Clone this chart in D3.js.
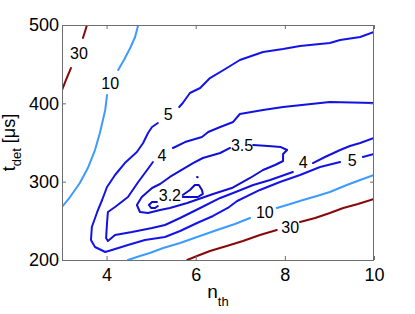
<!DOCTYPE html>
<html><head><meta charset="utf-8">
<script src="https://cdn.jsdelivr.net/npm/d3@7"></script>
<style>body{margin:0;background:#fff}svg{display:block}text{font-family:"Liberation Sans",Arial,Helvetica,sans-serif}</style>
</head><body><svg id="c" width="415" height="314"></svg>
<script>
// axis ticks
const xTicks = [4, 6, 8, 10];
const yTicks = [200, 300, 400, 500];
const xDomain = [3, 10];
const yDomain = [200, 500];

// contour levels and colours (jet-like)
const levels = [30, 10, 5, 4, 3.5, 3.2];
const levelColors = ["#870808", "#3d9bff", "#1414ea", "#1212e0", "#1010d6", "#0c0cca"];

// contour polylines [n_th, t_det] per level (segments broken at labels)
const c30 = [
  [[3.00,417.0],[3.09,429.8],[3.20,445.1]],
  [[3.47,483.4],[3.52,492.3],[3.56,500]],
  [[5.81,200],[6.03,205.1],[6.32,211.5],[6.77,219.1],[7.06,224.3],[7.44,231.9],[7.82,238.3]],
  [[8.34,248.5],[8.68,253.6],[9.01,260.0],[9.31,266.4],[9.64,271.5],[10,277.9]]
];
const c10 = [
  [[3.00,267.7],[3.18,280.4],[3.40,298.3],[3.58,317.4],[3.74,340.4],[3.85,362.1],[3.97,391.5],[4.01,410.6]],
  [[4.26,442.6],[4.39,455.3],[4.53,470.6],[4.64,484.7],[4.71,500]],
  [[4.48,200],[4.75,205.1],[4.97,208.9],[5.27,215.3],[5.65,221.7],[6.03,229.4],[6.48,238.3],[6.88,246.0],[7.22,253.6]],
  [[7.82,266.4],[8.12,271.5],[8.41,276.6],[8.72,281.7],[9.01,286.8],[9.39,295.7],[9.69,302.1],[10,308.5]]
];
const c5 = [
  [[5.63,395.3],[5.71,400.4],[5.87,413.2],[6.10,419.6],[6.32,432.3],[6.70,445.1],[6.99,455.3],[7.51,465.5],[7.96,469.4],[8.34,473.2],[9.01,477.0],[9.24,480.9],[9.69,484.7],[10,491.1]],
  [[5.15,374.9],[5.02,369.8],[4.93,362.1],[4.82,349.4],[4.68,337.9],[4.41,323.8],[4.19,308.5],[4.01,293.2],[3.90,276.6],[3.79,261.3],[3.67,242.1],[3.65,225.5],[3.74,216.6],[3.97,210.2],[4.12,212.8],[4.48,219.1],[4.86,225.5],[5.31,229.4],[5.65,237.0],[6.03,247.2],[6.39,256.2],[6.72,266.4],[6.93,275.3],[7.44,289.4],[7.89,299.6],[8.34,308.5],[8.79,318.7],[9.24,325.1]],
  [[9.75,331.5],[10,335.3]]
];
const c4 = [
  [[5.49,343.0],[5.76,350.6],[6.14,357.0],[6.28,363.4],[6.55,369.8],[6.84,376.2],[6.99,386.4],[7.51,391.5],[7.96,395.3],[9.01,401.7],[10,400.4]],
  [[5.04,325.1],[4.91,314.9],[4.71,299.6],[4.48,280.4],[4.19,267.7],[4.03,261.3],[4.01,247.2],[3.99,228.1],[4.03,224.3],[4.19,231.9],[4.57,235.7],[5.02,240.8],[5.31,244.7],[5.65,253.6],[6.10,266.4],[6.55,279.2],[6.84,285.5],[7.29,295.7],[7.67,302.1],[8.18,312.3]],
  [[8.63,323.8],[8.90,331.5],[9.24,340.4],[9.46,345.5],[9.69,349.4],[10,355.7]]
];
const c35 = [
  [[7.29,346.8],[7.62,345.5],[7.91,344.2],[8.05,340.4],[7.96,335.3],[7.96,326.4],[7.78,321.3],[7.51,314.9],[7.22,304.7],[6.81,291.9],[6.39,284.3],[5.81,272.8],[5.42,266.4],[5.20,263.8],[4.93,260.0],[4.75,261.3],[4.68,270.2],[4.79,280.4],[5.02,291.9],[5.20,297.0],[5.42,306.0],[5.94,323.8],[6.16,330.2],[6.55,336.6],[6.77,343.0]]
];
const c32 = [
  [[5.13,274.0],[5.02,274.0],[4.95,270.2],[5.00,266.4],[5.09,266.4],[5.15,268.9]],
  [[5.71,283.0],[5.87,289.4],[5.98,295.7],[6.07,295.7],[6.14,289.4],[6.16,284.3],[6.05,280.4],[5.87,280.4],[5.71,280.4]],
  [[6.03,306.0],[6.045,305.7]]
];
const contourLines = [c30, c10, c5, c4, c35, c32];

// in-line labels [n_th, t_det] per level
const labels30 = [[3.38,464.3],[8.12,242.1]];
const labels10 = [[4.08,426.0],[7.55,261.3]];
const labels5 = [[5.38,386.4],[9.51,327.7]];
const labels4 = [[5.24,334.0],[8.41,325.1]];
const labels35 = [[7.04,346.8]];
const labels32 = [[5.42,283.0]];
const contourLabels = [labels30, labels10, labels5, labels4, labels35, labels32];
const levelText = ["30", "10", "5", "4", "3.5", "3.2"];

const svg = d3.select("#c");
const L = 62, R = 374, T = 25, B = 260;
const x = d3.scaleLinear().domain(xDomain).range([L, R]);
const y = d3.scaleLinear().domain(yDomain).range([B, T]);

svg.append("defs").append("clipPath").attr("id", "clip")
  .append("rect").attr("x", L).attr("y", T).attr("width", R - L).attr("height", B - T);

const line = d3.line().x(d => x(d[0])).y(d => y(d[1]));
const g = svg.append("g").attr("clip-path", "url(#clip)");
contourLines.forEach((segs, i) => {
  g.selectAll(null).data(segs).enter().append("path")
    .attr("d", line).attr("fill", "none")
    .attr("stroke", levelColors[i]).attr("stroke-width", 2)
    .attr("stroke-linejoin", "round").attr("stroke-linecap", "round");
});
contourLabels.forEach((labs, i) => {
  svg.selectAll(null).data(labs).enter().append("text")
    .attr("x", d => x(d[0])).attr("y", d => y(d[1]))
    .attr("text-anchor", "middle").attr("dy", "0.36em")
    .attr("font-size", 16).attr("fill", "#000").text(levelText[i]);
});

const axisColor = "#6e6e6e";
function styleAxis(sel) {
  sel.select(".domain").remove();
  sel.selectAll(".tick line").attr("stroke", axisColor);
  sel.selectAll(".tick text").attr("fill", "#000").attr("font-size", 18)
    .attr("font-family", '"Liberation Sans",Arial,sans-serif');
}
svg.append("g").attr("transform", `translate(0,${B})`)
  .call(d3.axisBottom(x).tickValues(xTicks).tickSizeInner(-4).tickSizeOuter(0).tickPadding(8).tickFormat(d3.format("d")))
  .call(styleAxis);
svg.append("g").attr("transform", `translate(0,${T})`)
  .call(d3.axisTop(x).tickValues(xTicks).tickSizeInner(-4).tickSizeOuter(0).tickFormat(""))
  .call(styleAxis);
svg.append("g").attr("transform", `translate(${L},0)`)
  .call(d3.axisLeft(y).tickValues(yTicks).tickSizeInner(-4).tickSizeOuter(0).tickPadding(3).tickFormat(d3.format("d")))
  .call(styleAxis);
svg.append("g").attr("transform", `translate(${R},0)`)
  .call(d3.axisRight(y).tickValues(yTicks).tickSizeInner(-4).tickSizeOuter(0).tickFormat(""))
  .call(styleAxis);

svg.append("rect").attr("x", L + 0.5).attr("y", T + 0.5).attr("width", R - L - 1).attr("height", B - T)
  .attr("fill", "none").attr("stroke", axisColor).attr("stroke-width", 1);

// axis titles
const xt = svg.append("text").attr("x", (L + R) / 2).attr("y", 298).attr("text-anchor", "middle").attr("font-size", 19);
xt.append("tspan").text("n");
xt.append("tspan").attr("font-size", 13).attr("dy", 8).text("th");

const yt = svg.append("text").attr("transform", `translate(15,${(T + B) / 2}) rotate(-90)`)
  .attr("text-anchor", "middle").attr("font-size", 18);
yt.append("tspan").text("t");
yt.append("tspan").attr("font-size", 13).attr("dy", 6).text("det");
yt.append("tspan").attr("dy", -6).text(" [μs]");
</script></body></html>
